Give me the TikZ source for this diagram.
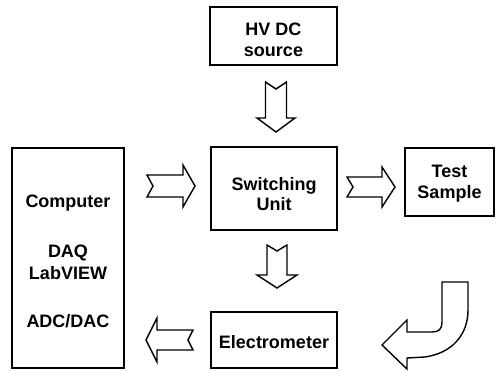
\documentclass[tikz,border=0pt]{standalone}
\usepackage{fontspec}
\setmainfont{Liberation Sans}
\begin{document}
\begin{tikzpicture}[x=1pt,y=-1pt,
  box/.style={draw,line width=1.4pt,inner sep=0pt},
  txt/.style={anchor=base,inner sep=0pt,font=\fontsize{18}{21}\selectfont\bfseries},
  arw/.style={draw,line width=1.4pt,line join=miter,fill=white},
  pics/barrow/.style n args={5}{code={
    \draw[arw] (0,-#2) -- (#1-#4,-#2) -- (#1-#4,-#3) -- (#1,0) -- (#1-#4,#3)
      -- (#1-#4,#2) -- (0,#2) -- (#5,0) -- cycle;
  }}]
\useasboundingbox (0,0) rectangle (496,370);
% boxes
\node[box,minimum width=127pt,minimum height=58pt] (hv) at (273.5,36) {};
\node[box,minimum width=126pt,minimum height=83pt] (sw) at (274,188.5) {};
\node[box,minimum width=89pt,minimum height=68pt] (ts) at (449.5,182) {};
\node[box,minimum width=112pt,minimum height=220pt] (comp) at (68,258) {};
\node[box,minimum width=126pt,minimum height=56pt] (el) at (274,340) {};
% texts
\node[txt] (hv1) at (273.5,35) {HV DC};
\node[txt] (hv2) at (273.5,56) {source};
\node[txt] (sw1) at (274,190) {Switching};
\node[txt] (sw2) at (274,210) {Unit};
\node[txt] (ts1) at (449.5,177) {Test};
\node[txt] (ts2) at (449.5,198) {Sample};
\node[txt] (c1) at (68,207) {Computer};
\node[txt] (c2) at (68,257) {DAQ};
\node[txt] (c3) at (68,279) {LabVIEW};
\node[txt] (c4) at (68,327) {ADC/DAC};
\node[txt] (el1) at (274,348) {Electrometer};
% block arrows
\pic (a1) at (147,186) {barrow={48}{11}{21}{12}{6}};
\pic (a2) at (347,187) {barrow={48}{10}{20}{13}{6}};
\pic[rotate=-90] (a3) at (276,82) {barrow={50}{10.5}{19}{14}{7}};
\pic[rotate=-90] (a4) at (277,245) {barrow={43}{10}{20}{13}{6}};
\pic[rotate=180] (a5) at (193,340) {barrow={47}{10}{22}{11}{5}};
% curved arrow
\draw[arw] (468,282) -- (442,282) -- (442,322) .. controls (442,329) and (439,332) .. (432,332)
  -- (407,332) -- (407,320) -- (382,345) -- (407,369) -- (407,358) -- (425,357)
  .. controls (452,353) and (468,335) .. (468,310) -- cycle;
\end{tikzpicture}
\end{document}
